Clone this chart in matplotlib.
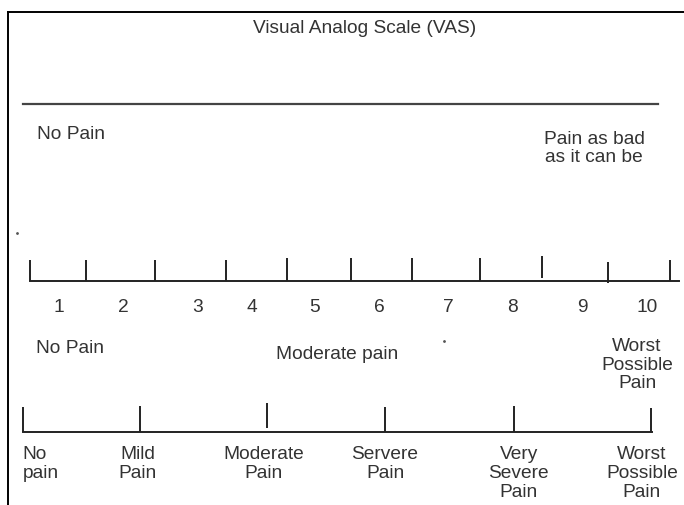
import matplotlib
matplotlib.use("Agg")
import matplotlib.pyplot as plt

plt.rcParams['font.family'] = ['Liberation Sans', 'DejaVu Sans']
fontsize = 13.8
text_color = '#333333'
line_color = '#222222'
line_step = 18.8  # px between baselines in multi-line labels

title = 'Visual Analog Scale (VAS)'

# top scale: plain line with two end labels
vas_ends = [22.7, 658]
vas_labels = ['No Pain', 'Pain as bad\nas it can be']

# numeric rating scale 1-10
num_ticks = [30, 86, 154.7, 225.7, 287.3, 351.3, 412.3, 480, 542.3, 607.7, 670.3]
num_tick_top = [260, 260, 260, 260, 258.3, 258.3, 258.3, 258.3, 256, 261.7, 260]
num_tick_bottom = [281, 281, 281, 281, 281, 281, 281, 281, 277.7, 282.5, 281]
num_labels = ['1', '2', '3', '4', '5', '6', '7', '8', '9', '10']
num_label_x = [59, 123, 198, 252, 315, 379.7, 448.7, 513, 582.7, 647]
num_anchors = ['No Pain', 'Moderate pain', 'Worst\nPossible\nPain']

# verbal rating scale
word_ticks = [23.3, 140.3, 266.7, 385.3, 513.7, 651.3]
word_tick_top = [406.7, 406, 403.3, 406.7, 406, 408]
word_tick_bottom = [432, 432, 427.7, 432, 432, 432]
word_labels = ['No\npain', 'Mild\nPain', 'Moderate\nPain', 'Servere\nPain',
               'Very\nSevere\nPain', 'Worst\nPossible\nPain']
word_label_x = [22.7, 137.5, 263.3, 385, 518.7, 642]

fig = plt.figure(figsize=(6.84, 5.05), dpi=100)
ax = fig.add_axes([0, 0, 1, 1])
ax.set_xlim(0, 684)
ax.set_ylim(505, 0)
ax.axis('off')

tkw = dict(fontsize=fontsize, color=text_color, linespacing=1.12)


def label(x, first_baseline, s, ha='center'):
    # va='baseline' anchors the last line, so shift by the extra lines
    n = s.count('\n')
    ax.text(x, first_baseline + n * line_step, s, ha=ha, va='baseline',
            multialignment=ha, **tkw)


# frame (left + top only)
ax.plot([8, 8], [505, 12], color='black', lw=1.4)
ax.plot([8, 684], [12, 12], color='black', lw=1.4)

label(365, 33, title)

# VAS line
ax.plot(vas_ends, [104, 104], color='#444444', lw=1.6)
label(36.7, 139.3, vas_labels[0], ha='left')
label(594, 143.3, vas_labels[1])
ax.plot([17.3], [232.7], marker='.', ms=2, color='#555555')

# numeric scale
ax.plot([num_ticks[0], 679], [280.7, 280.7], color=line_color, lw=1.4)
ax.vlines(num_ticks, num_tick_top, num_tick_bottom, color=line_color, lw=1.4)
for x, s in zip(num_label_x, num_labels):
    label(x, 311.7, s)
label(36, 353, num_anchors[0], ha='left')
label(337, 359.3, num_anchors[1])
ax.plot([444.3], [340.7], marker='.', ms=2, color='#555555')
label(637, 350.7, num_anchors[2])

# verbal scale
ax.plot([word_ticks[0] - 0.6, word_ticks[-1] + 0.7], [432, 432], color=line_color, lw=1.4)
ax.vlines(word_ticks, word_tick_top, word_tick_bottom, color=line_color, lw=1.4)
for i, (x, s) in enumerate(zip(word_label_x, word_labels)):
    label(x, 459, s, ha='left' if i == 0 else 'center')

fig.savefig('out.png', dpi=100)
